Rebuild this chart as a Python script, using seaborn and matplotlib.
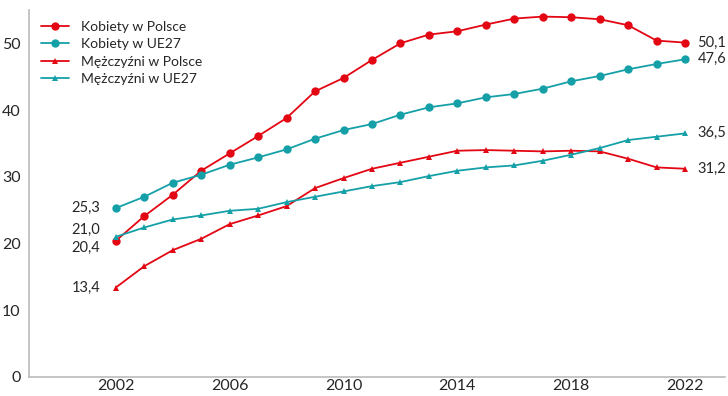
import numpy as np
import pandas as pd
import matplotlib.pyplot as plt
import seaborn as sns

years = list(range(2002, 2023))
kobiety_pl = [20.4, 24.1, 27.3, 30.9, 33.5, 36.1, 38.8, 42.8, 44.8, 47.5, 50.0,
              51.3, 51.8, 52.8, 53.7, 54.0, 53.9, 53.6, 52.7, 50.4, 50.1]
kobiety_ue = [25.3, 27.0, 29.1, 30.3, 31.8, 32.9, 34.1, 35.7, 37.0, 37.9, 39.3,
              40.4, 41.0, 41.9, 42.4, 43.2, 44.3, 45.1, 46.1, 46.9, 47.6]
mezczyzni_pl = [13.4, 16.6, 19.0, 20.7, 22.9, 24.2, 25.6, 28.3, 29.8, 31.2, 32.1,
                33.0, 33.9, 34.0, 33.9, 33.8, 33.9, 33.8, 32.7, 31.4, 31.2]
mezczyzni_ue = [21.0, 22.4, 23.6, 24.2, 24.9, 25.2, 26.2, 27.0, 27.8, 28.6, 29.2,
                30.1, 30.9, 31.4, 31.7, 32.4, 33.3, 34.3, 35.5, 36.0, 36.5]
series_names = ["Kobiety w Polsce", "Kobiety w UE27", "Mężczyźni w Polsce", "Mężczyźni w UE27"]
x_ticks = [2002, 2006, 2010, 2014, 2018, 2022]
y_ticks = [0, 10, 20, 30, 40, 50]

RED = "#e30613"
TEAL = "#15a0a8"
styles = {
    "Kobiety w Polsce": (RED, "o", 6),
    "Kobiety w UE27": (TEAL, "o", 6),
    "Mężczyźni w Polsce": (RED, "^", 5),
    "Mężczyźni w UE27": (TEAL, "^", 5),
}

df = pd.DataFrame({
    "rok": years * 4,
    "wartosc": kobiety_pl + kobiety_ue + mezczyzni_pl + mezczyzni_ue,
    "seria": np.repeat(series_names, len(years)),
})

sns.set_style("white")
plt.rcParams["font.family"] = ["Lato", "DejaVu Sans"]

fig = plt.figure(figsize=(7.28, 3.96), dpi=100)
ax = fig.add_axes([0.0398, 0.048, 0.956, 0.927])

for name in series_names:
    color, marker, ms = styles[name]
    sub = df[df["seria"] == name]
    sns.lineplot(data=sub, x="rok", y="wartosc", color=color, marker=marker,
                 markersize=ms, markeredgewidth=0, linewidth=1.3, label=name, ax=ax)

def fmt(v):
    return f"{v:.1f}".replace(".", ",")

# value labels at both ends of each line
start_offsets = {"Kobiety w Polsce": -5, "Kobiety w UE27": 0,
                 "Mężczyźni w Polsce": 0, "Mężczyźni w UE27": 5}
for name in series_names:
    sub = df[df["seria"] == name]
    v = sub["wartosc"].iloc[0]
    ax.annotate(fmt(v), (sub["rok"].iloc[0], v), xytext=(-11, start_offsets[name]),
                textcoords="offset points", ha="right", va="center", fontsize=10.5)
    v2 = sub["wartosc"].iloc[-1]
    ax.annotate(fmt(v2), (sub["rok"].iloc[-1], v2), xytext=(9, 0),
                textcoords="offset points", ha="left", va="center", fontsize=10.5)

ax.set_xlim(1998.95, 2023.4)
ax.set_ylim(0, 55)
ax.set_xticks(x_ticks)
ax.set_yticks(y_ticks)
ax.set_xlabel("")
ax.set_ylabel("")
ax.tick_params(axis="y", length=0, labelsize=11.5, pad=6)
ax.tick_params(axis="x", length=0, labelsize=11.5, pad=1.5)
for side in ["top", "right"]:
    ax.spines[side].set_visible(False)
for side in ["left", "bottom"]:
    ax.spines[side].set_color("#bbbbbb")
    ax.spines[side].set_linewidth(1.2)

ax.legend(loc="upper left", bbox_to_anchor=(0.0, 1.005), frameon=False,
          fontsize=10, handlelength=2.0, labelspacing=0.4, handletextpad=0.85)

fig.savefig("out.png", dpi=100)
